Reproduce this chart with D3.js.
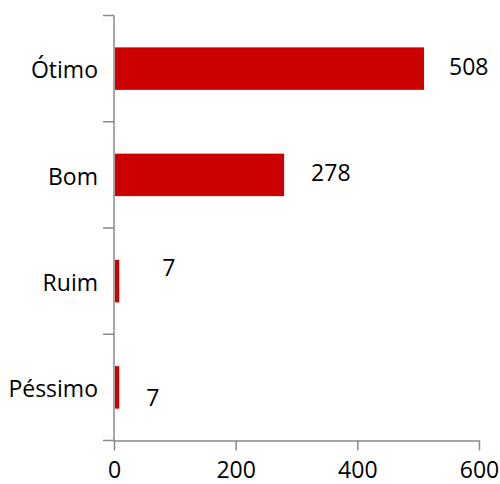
<!DOCTYPE html>
<html>
<head>
<meta charset="utf-8">
<script src="https://cdn.jsdelivr.net/npm/d3@7"></script>
<style>
  body { margin: 0; background: #fff; }
  text { font-family: "Open Sans", sans-serif; }
</style>
</head>
<body>
<div id="chart"></div>
<script>
// Data
const categories = ['Ótimo', 'Bom', 'Ruim', 'Péssimo']
const values = [508, 278, 7, 7]
const xTicks = [0, 200, 400, 600]
// label nudges (dx, dy) to mimic the original label placement
const labelNudge = [[26, -2], [28, -2], [44, -13], [28, 11]]

// Dimensions
const dimensions = {
  width: 500,
  height: 484,
  left: 114,
  right: 479,
  top: 15.5,
  bottom: 440.5,
}

const axisColor = '#888888'
const barColor = '#cc0000'
const fontSize = 23

const svg = d3.select('#chart')
  .append('svg')
  .attr('width', dimensions.width)
  .attr('height', dimensions.height)

// Scales
const x = d3.scaleLinear()
  .domain([0, 600])
  .range([dimensions.left, dimensions.right])

const y = d3.scaleBand()
  .domain(categories)
  .range([dimensions.top, dimensions.bottom])
  .paddingInner(0.6)
  .paddingOuter(0.3)

// Bars
svg.append('g')
  .selectAll('rect')
  .data(values)
  .join('rect')
  .attr('x', x(0) + 1)
  .attr('y', (d, i) => y(categories[i]))
  .attr('width', d => x(d) - x(0))
  .attr('height', y.bandwidth())
  .attr('fill', barColor)

// X axis
const xAxis = svg.append('g')
  .attr('transform', `translate(0, ${dimensions.bottom})`)
  .call(d3.axisBottom(x).tickValues(xTicks).tickSize(10).tickSizeOuter(0).tickPadding(11))
xAxis.select('.domain').attr('stroke', axisColor).attr('stroke-width', 1.5)
xAxis.selectAll('.tick line').attr('stroke', axisColor).attr('stroke-width', 1.5)
xAxis.selectAll('text').attr('font-size', fontSize).attr('fill', '#000')
  .style('font-family', '"Open Sans", sans-serif')

// Y axis (labels at band centres, ticks at band boundaries)
const yAxis = svg.append('g')
  .attr('transform', `translate(${dimensions.left}, 0)`)
  .call(d3.axisLeft(y).tickSize(0).tickPadding(16))
yAxis.select('.domain').remove()
yAxis.selectAll('text').attr('font-size', fontSize).attr('fill', '#000')
  .attr('dy', '0.42em')
  .style('font-family', '"Open Sans", sans-serif')

const step = (dimensions.bottom - dimensions.top) / categories.length
const bounds = d3.range(categories.length + 1).map(i => dimensions.top + i * step)

svg.append('line')
  .attr('x1', dimensions.left).attr('x2', dimensions.left)
  .attr('y1', dimensions.top).attr('y2', dimensions.bottom)
  .attr('stroke', axisColor).attr('stroke-width', 1.5)

svg.append('g')
  .selectAll('line')
  .data(bounds)
  .join('line')
  .attr('x1', dimensions.left - 11)
  .attr('x2', dimensions.left)
  .attr('y1', d => d)
  .attr('y2', d => d)
  .attr('stroke', axisColor)
  .attr('stroke-width', 1.5)

// Value labels
svg.append('g')
  .selectAll('text')
  .data(values)
  .join('text')
  .attr('x', (d, i) => x(d) + labelNudge[i][0])
  .attr('y', (d, i) => y(categories[i]) + y.bandwidth() / 2 + labelNudge[i][1])
  .attr('dy', '0.35em')
  .attr('font-size', fontSize)
  .attr('fill', '#000')
  .text(d => d)
</script>
</body>
</html>
